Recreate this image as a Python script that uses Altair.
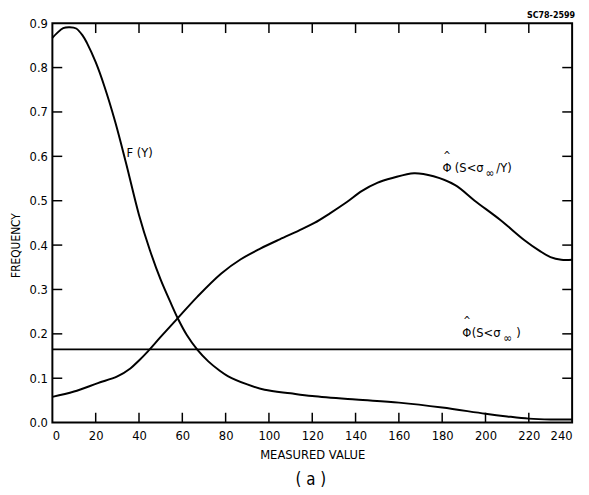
import altair as alt
import pandas as pd

# F(Y) curve
f_x = [0, 2, 5, 8, 11, 14, 16, 20, 24, 29, 34, 40, 45, 50, 55, 58, 62, 67, 72, 77, 81, 90, 98, 110, 120, 140, 160, 180, 200, 210, 220, 230, 240]
f_y = [0.867, 0.877, 0.889, 0.891, 0.888, 0.872, 0.855, 0.812, 0.758, 0.678, 0.585, 0.468, 0.389, 0.322, 0.266, 0.234, 0.198, 0.164, 0.138, 0.118, 0.105, 0.086, 0.074, 0.066, 0.060, 0.052, 0.045, 0.034, 0.020, 0.014, 0.009, 0.007, 0.007]

# Phi-hat(S < sigma_inf / Y) curve
p_x = [0, 10, 21, 30, 36, 40, 44, 50, 58, 67, 78, 87, 96, 105, 114, 121, 128, 136, 143, 150, 157, 167, 176, 186, 195, 207, 218, 225, 230, 235, 240]
p_y = [0.058, 0.070, 0.089, 0.104, 0.122, 0.140, 0.160, 0.193, 0.236, 0.284, 0.336, 0.368, 0.392, 0.413, 0.433, 0.450, 0.471, 0.497, 0.522, 0.540, 0.551, 0.562, 0.555, 0.535, 0.500, 0.456, 0.411, 0.387, 0.373, 0.367, 0.367]

# Phi-hat(S < sigma_inf) constant
phi_const = 0.165

x_ticks = [0, 20, 40, 60, 80, 100, 120, 140, 160, 180, 200, 220, 240]
y_ticks = [0.0, 0.1, 0.2, 0.3, 0.4, 0.5, 0.6, 0.7, 0.8, 0.9]
x_inner = [20, 40, 60, 80, 100, 120, 140, 160, 180, 200, 220]
y_inner = [0.1, 0.2, 0.3, 0.4, 0.5, 0.6, 0.7, 0.8]

W, H = 527, 405
FONT = "DejaVu Sans Condensed, Liberation Sans Narrow, DejaVu Sans, sans-serif"

df_f = pd.DataFrame({"x": f_x, "y": f_y})
df_p = pd.DataFrame({"x": p_x, "y": p_y})
df_c = pd.DataFrame({"x": [0, 240], "y": [phi_const, phi_const]})

xs = alt.Scale(domain=[0, 240], nice=False, zero=False)
ys = alt.Scale(domain=[0, 0.9], nice=False, zero=False)

xax = alt.Axis(values=x_ticks, format="d", ticks=False, domain=False, grid=False,
               labelPadding=7, labelFontSize=13, labelFont=FONT, labelColor="black",
               title="MEASURED VALUE", titleFont=FONT, titleFontSize=13, titleFontWeight="normal",
               titleColor="black", titlePadding=6)
yax = alt.Axis(values=y_ticks, format=".1f", ticks=False, domain=False, grid=False,
               labelPadding=5, labelFontSize=13, labelFont=FONT, labelColor="black",
               title="FREQUENCY", titleFont=FONT, titleFontSize=12, titleFontWeight="normal",
               titleColor="black", titleX=-37, titleY=225, titleBaseline="middle", titleAngle=270)

line_f = alt.Chart(df_f).mark_line(color="black", strokeWidth=2, interpolate="catmull-rom").encode(
    x=alt.X("x:Q", scale=xs, axis=xax), y=alt.Y("y:Q", scale=ys, axis=yax))
line_p = alt.Chart(df_p).mark_line(color="black", strokeWidth=2, interpolate="catmull-rom").encode(
    x=alt.X("x:Q", scale=xs), y=alt.Y("y:Q", scale=ys))
line_c = alt.Chart(df_c).mark_line(color="black", strokeWidth=2).encode(
    x=alt.X("x:Q", scale=xs), y=alt.Y("y:Q", scale=ys))

dxi = pd.DataFrame({"x": x_inner})
dyi = pd.DataFrame({"y": y_inner})
tick_b = alt.Chart(dxi).mark_rule(color="black", strokeWidth=1.5).encode(
    x=alt.X("x:Q", scale=xs), y=alt.value(H), y2=alt.value(H - 10))
tick_t = alt.Chart(dxi).mark_rule(color="black", strokeWidth=1.5).encode(
    x=alt.X("x:Q", scale=xs), y=alt.value(0), y2=alt.value(10))
tick_l = alt.Chart(dyi).mark_rule(color="black", strokeWidth=1.5).encode(
    y=alt.Y("y:Q", scale=ys), x=alt.value(0), x2=alt.value(10))
tick_r = alt.Chart(dyi).mark_rule(color="black", strokeWidth=1.5).encode(
    y=alt.Y("y:Q", scale=ys), x=alt.value(W), x2=alt.value(W - 10))

def label(x, y, text, size=13, dx=0, dy=0, align="left"):
    return alt.Chart(pd.DataFrame({"x": [x], "y": [y], "t": [text]})).mark_text(
        align=align, baseline="middle", font=FONT, fontSize=size, color="black", dx=dx, dy=dy
    ).encode(x=alt.X("x:Q", scale=xs), y=alt.Y("y:Q", scale=ys), text="t:N")

lab_f = label(34.2, 0.607, "F (Y)")
# Phi-hat(S < sigma_inf / Y) label, anchored at centre of the Phi
p_ax, p_ay = 182.2, 0.573
lab_p = [
    label(p_ax, p_ay, "\u03a6", align="center"),
    label(p_ax, p_ay, "^", size=10, dy=-12, align="center"),
    label(p_ax, p_ay, "(S<\u03c3", dx=8),
    label(p_ax, p_ay, "\u221e", size=12, dx=39, dy=5),
    label(p_ax, p_ay, "/Y)", dx=50),
]
# Phi-hat(S < sigma_inf) label
c_ax, c_ay = 191.4, 0.202
lab_c = [
    label(c_ax, c_ay, "\u03a6", align="center"),
    label(c_ax, c_ay, "^", size=10, dy=-12, align="center"),
    label(c_ax, c_ay, "(S<\u03c3", dx=5),
    label(c_ax, c_ay, "\u221e", size=12, dx=37, dy=5),
    label(c_ax, c_ay, ")", dx=50),
]

code = alt.Chart(pd.DataFrame({"t": ["SC78-2599"]})).mark_text(
    align="right", baseline="top", font=FONT, fontSize=9, fontWeight="bold", color="black"
).encode(x=alt.value(W + 3), y=alt.value(-12), text="t:N")
sub = alt.Chart(pd.DataFrame({"t": ["( a )"]})).mark_text(
    align="center", baseline="middle", font=FONT, fontSize=17, color="black"
).encode(x=alt.value(262), y=alt.value(463), text="t:N")

chart = alt.layer(
    line_c, line_p, line_f, tick_b, tick_t, tick_l, tick_r,
    lab_f, *lab_p, *lab_c, code, sub
).properties(
    width=W, height=H,
    autosize=alt.AutoSizeParams(type="none"),
    padding={"left": 45, "top": 12, "right": 9, "bottom": 70},
    background="white",
).configure_view(stroke="black", strokeWidth=2)

chart.save("out.html", embed_options={"renderer": "svg", "actions": False})
